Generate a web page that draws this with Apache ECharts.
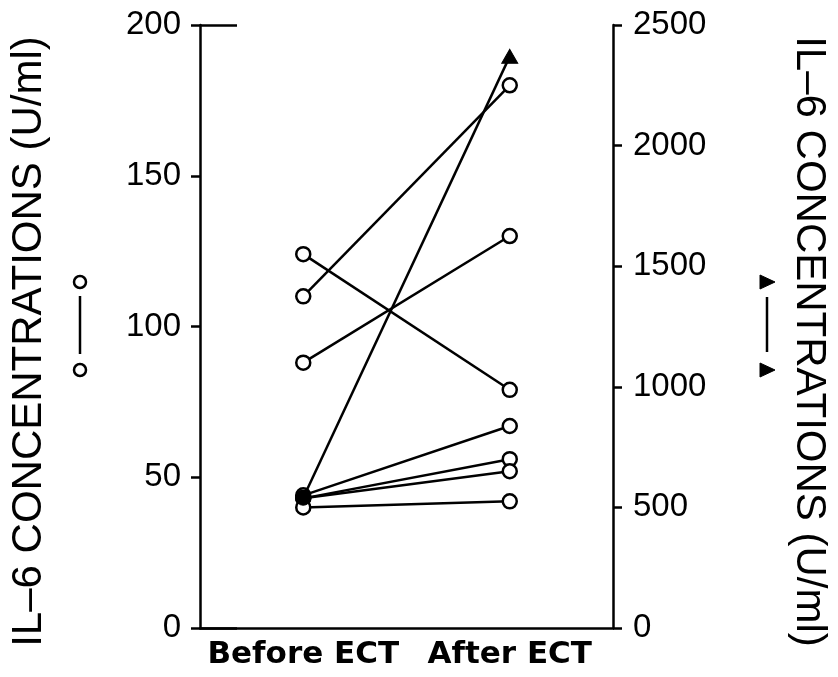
<!DOCTYPE html>
<html><head><meta charset="utf-8">
<script src="https://cdn.jsdelivr.net/npm/echarts@6/dist/echarts.min.js"></script>
<style>html,body{margin:0;padding:0;background:#fff}#c{width:838px;height:677px}</style>
</head><body><div id="c"></div>
<script>
const categories = ['Before ECT', 'After ECT'];
// open-circle patients (left axis, U/ml)
const circleBefore = [110, 124, 88, 44, 43, 43, 40];
const circleAfter  = [180, 79, 130, 67, 56, 52, 42];
// filled-triangle patient (right axis, U/ml)
const triangleValues = [540, 2370];
const leftAxisName = 'IL\u20136 CONCENTRATIONS (U/ml)';
const rightAxisName = 'IL\u20136 CONCENTRATIONS (U/ml)';

const FONT = 'Liberation Sans';
const chart = echarts.init(document.getElementById('c'), null, {renderer: 'canvas'});
const series = [];
for (let i = 0; i < circleBefore.length; i++) {
  series.push({
    type: 'line', yAxisIndex: 0, silent: true,
    data: [circleBefore[i], circleAfter[i]],
    symbol: 'circle', symbolSize: 14,
    itemStyle: {color: '#fff', borderColor: '#000', borderWidth: 2.5},
    lineStyle: {color: '#000', width: 2.5},
    z: 3
  });
}
series.push({
  type: 'line', yAxisIndex: 1, silent: true,
  data: [
    {value: triangleValues[0], symbol: 'circle', symbolSize: 15},
    {value: triangleValues[1], symbol: 'triangle', symbolSize: [16, 14]}
  ],
  itemStyle: {color: '#000', borderColor: '#000', borderWidth: 1},
  lineStyle: {color: '#000', width: 2.5},
  z: 4
});

const option = {
  animation: false,
  backgroundColor: '#fff',
  grid: {left: 193, right: 218, top: 25, bottom: 49, containLabel: false},
  xAxis: {
    type: 'category', data: categories, boundaryGap: true,
    axisLine: {lineStyle: {color: '#000', width: 2.5}},
    axisTick: {show: false},
    axisLabel: {color: '#000', fontFamily: 'DejaVu Sans', fontWeight: 'bold', fontSize: 31, margin: 11, interval: 0, hideOverlap: false},
    splitLine: {show: false}
  },
  yAxis: [
    {
      type: 'value', position: 'left', min: 0, max: 200, interval: 50,
      name: leftAxisName, nameLocation: 'middle', nameGap: 150, nameRotate: 90,
      nameTextStyle: {color: '#000', fontFamily: FONT, fontSize: 42, padding: [0, 30, 0, 0]},
      axisLine: {show: true, lineStyle: {color: '#000', width: 2.5}},
      axisTick: {show: true, inside: false, length: 9, lineStyle: {color: '#000', width: 2.5}},
      axisLabel: {color: '#000', fontFamily: FONT, fontSize: 33, margin: 19},
      splitLine: {show: false}
    },
    {
      type: 'value', position: 'right', min: 0, max: 2500, interval: 500,
      name: rightAxisName, nameLocation: 'middle', nameGap: 175, nameRotate: -90,
      nameTextStyle: {color: '#000', fontFamily: FONT, fontSize: 42, padding: [0, 0, 0, 30]},
      axisLine: {show: true, lineStyle: {color: '#000', width: 2.5}},
      axisTick: {show: true, inside: false, length: 9, lineStyle: {color: '#000', width: 2.5}},
      axisLabel: {color: '#000', fontFamily: FONT, fontSize: 33, margin: 20, formatter: v => String(v)},
      splitLine: {show: false}
    },
    {
      type: 'value', position: 'left', min: 0, max: 200, interval: 200,
      axisLine: {show: false},
      axisTick: {show: true, inside: true, length: 37, lineStyle: {color: '#000', width: 2.5}},
      axisLabel: {show: false}, splitLine: {show: false}
    }
  ],
  graphic: [
    {type: 'circle', shape: {cx: 80, cy: 282, r: 6}, style: {fill: '#fff', stroke: '#000', lineWidth: 2.5}},
    {type: 'line', shape: {x1: 80, y1: 296, x2: 80, y2: 354}, style: {stroke: '#000', lineWidth: 2.5}},
    {type: 'circle', shape: {cx: 80, cy: 370, r: 6}, style: {fill: '#fff', stroke: '#000', lineWidth: 2.5}},
    {type: 'polygon', shape: {points: [[760, 275], [775, 282], [760, 289]]}, style: {fill: '#000', stroke: '#000', lineWidth: 1}},
    {type: 'line', shape: {x1: 767, y1: 297, x2: 767, y2: 352}, style: {stroke: '#000', lineWidth: 2.5}},
    {type: 'polygon', shape: {points: [[760, 363], [775, 370], [760, 377]]}, style: {fill: '#000', stroke: '#000', lineWidth: 1}}
  ],
  series: series
};
chart.setOption(option);
</script>
</body></html>
